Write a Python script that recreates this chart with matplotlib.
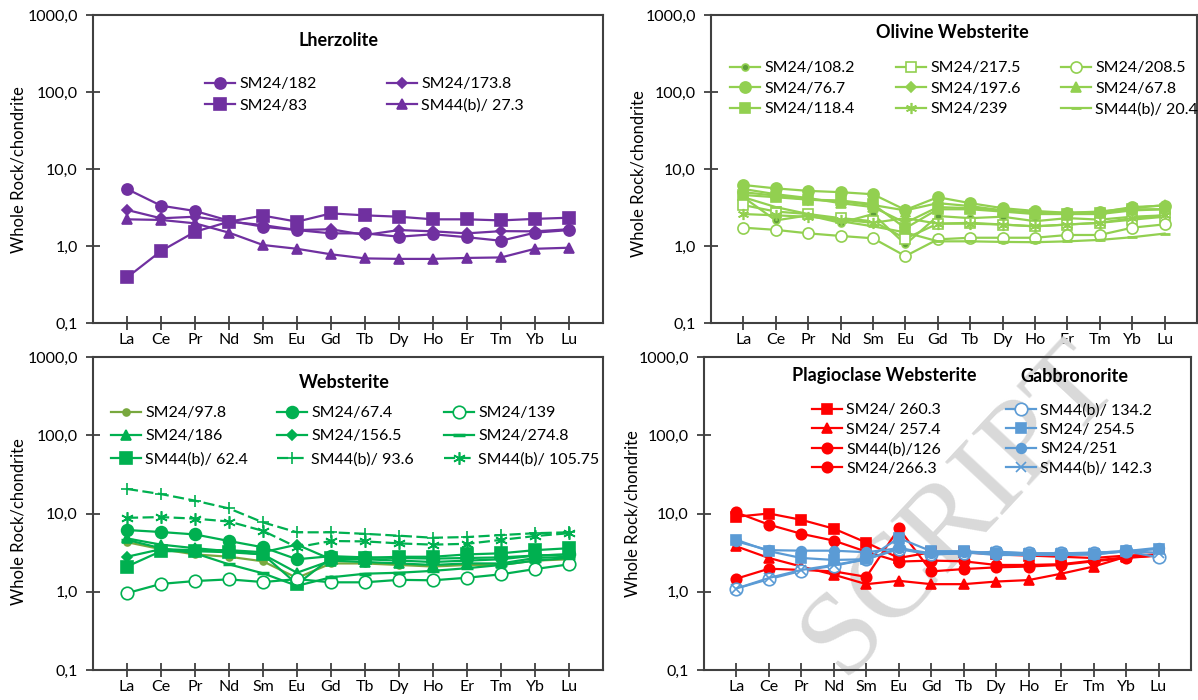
import numpy as np
import matplotlib
matplotlib.use("Agg")
import matplotlib.pyplot as plt

plt.rcParams['font.family'] = ['Lato', 'DejaVu Sans']

W, H = 1198, 700

ree = ["La", "Ce", "Pr", "Nd", "Sm", "Eu", "Gd", "Tb", "Dy", "Ho", "Er", "Tm", "Yb", "Lu"]
yticks = [0.1, 1, 10, 100, 1000]
ytick_labels = ["0,1", "1,0", "10,0", "100,0", "1000,0"]

# Lherzolite
lh_182 = [5.5, 3.34, 2.85, 2.13, 1.78, 1.61, 1.46, 1.46, 1.32, 1.42, 1.30, 1.17, 1.49, 1.61]
lh_173_8 = [2.94, 2.29, 2.40, 2.07, 1.87, 1.61, 1.65, 1.39, 1.61, 1.55, 1.46, 1.56, 1.55, 1.65]
lh_83 = [0.39, 0.86, 1.53, 2.07, 2.48, 2.07, 2.65, 2.50, 2.40, 2.22, 2.22, 2.15, 2.25, 2.33]
lh_27_3 = [2.22, 2.18, 1.97, 1.49, 1.03, 0.92, 0.78, 0.69, 0.68, 0.68, 0.70, 0.71, 0.92, 0.95]

# Olivine websterite
ow_108_2 = [4.3, 2.15, 2.5, 2.0, 2.6, 1.05, 2.45, 2.3, 2.4, 2.1, 2.3, 2.2, 2.4, 2.5]
ow_217_5 = [3.4, 2.8, 2.6, 2.3, 2.1, 1.25, 1.95, 2.0, 1.9, 1.8, 1.9, 2.0, 2.2, 2.4]
ow_208_5 = [1.73, 1.62, 1.46, 1.35, 1.26, 0.74, 1.22, 1.28, 1.28, 1.28, 1.39, 1.39, 1.73, 1.91]
ow_76_7 = [6.2, 5.6, 5.2, 5.0, 4.7, 2.94, 4.3, 3.6, 3.1, 2.85, 2.7, 2.75, 3.2, 3.35]
ow_197_6 = [5.0, 4.5, 4.0, 3.8, 3.4, 2.9, 3.6, 3.3, 2.9, 2.7, 2.6, 2.6, 2.9, 3.0]
ow_67_8 = [5.5, 4.7, 4.2, 3.6, 3.2, 2.0, 3.2, 3.1, 2.9, 2.7, 2.7, 2.8, 3.1, 3.4]
ow_118_4 = [4.6, 4.3, 4.0, 3.9, 3.5, 1.7, 3.0, 3.0, 2.8, 2.6, 2.6, 2.7, 3.0, 3.0]
ow_239 = [2.6, 2.5, 2.4, 2.2, 2.0, 2.3, 1.95, 1.95, 1.9, 1.8, 1.9, 2.0, 2.3, 2.5]
ow_20_4 = [4.3, 3.2, 2.6, 2.1, 1.8, 1.5, 1.15, 1.15, 1.13, 1.12, 1.15, 1.2, 1.3, 1.45]

# Websterite
ws_97_8 = [4.3, 3.5, 3.0, 2.8, 2.45, 1.5, 2.3, 2.3, 2.2, 2.1, 2.2, 2.2, 2.5, 2.6]
ws_67_4 = [6.15, 5.8, 5.4, 4.45, 3.7, 2.6, 2.85, 2.75, 2.7, 2.65, 2.7, 2.75, 2.9, 3.0]
ws_139 = [0.96, 1.26, 1.37, 1.44, 1.33, 1.45, 1.32, 1.32, 1.42, 1.40, 1.51, 1.67, 1.95, 2.24]
ws_186 = [4.8, 4.0, 3.6, 3.3, 3.0, 1.75, 2.5, 2.4, 2.3, 2.2, 2.3, 2.3, 2.7, 2.8]
ws_156_5 = [2.8, 3.5, 3.4, 3.4, 3.2, 4.0, 2.6, 2.6, 2.5, 2.4, 2.5, 2.6, 2.9, 3.0]
ws_274_8 = [4.6, 3.6, 3.1, 2.24, 1.72, 1.19, 1.53, 1.7, 1.75, 1.85, 2.0, 2.2, 2.5, 2.7]
ws_62_4 = [2.1, 3.3, 3.3, 3.2, 3.0, 1.25, 2.7, 2.7, 2.8, 2.8, 3.0, 3.1, 3.4, 3.6]
ws_93_6 = [20.6, 17.7, 14.6, 11.6, 7.7, 5.75, 5.75, 5.5, 5.2, 4.9, 5.0, 5.3, 5.6, 5.75]
ws_105_75 = [8.8, 9.0, 8.6, 7.9, 6.0, 3.7, 4.45, 4.4, 4.15, 4.0, 4.1, 4.6, 5.15, 5.6]

# Plagioclase websterite
pw_260_3 = [9.1, 10.0, 8.3, 6.4, 4.25, 2.7, 3.2, 3.2, 3.0, 2.9, 2.8, 2.7, 2.9, 3.0]
pw_257_4 = [3.8, 2.7, 2.1, 1.65, 1.25, 1.38, 1.25, 1.25, 1.35, 1.41, 1.7, 2.1, 2.8, 2.9]
pw_126 = [10.3, 7.2, 5.5, 4.5, 3.25, 2.43, 2.5, 2.45, 2.2, 2.2, 2.25, 2.5, 2.75, 2.9]
pw_266_3 = [1.47, 1.97, 1.9, 1.82, 1.55, 6.45, 1.82, 1.95, 2.05, 2.1, 2.2, 2.45, 2.7, 2.9]

# Gabbronorite
gn_134_2 = [1.1, 1.45, 1.85, 2.15, 2.6, 3.5, 3.0, 3.1, 3.25, 3.1, 3.1, 3.15, 3.3, 2.75]
gn_254_5 = [4.6, 3.3, 2.7, 2.55, 2.6, 4.85, 3.3, 3.3, 3.1, 3.0, 3.0, 3.0, 3.3, 3.5]
gn_251 = [4.4, 3.4, 3.35, 3.35, 3.2, 3.6, 3.1, 3.2, 2.95, 2.95, 2.95, 3.0, 3.3, 3.65]
gn_142_3 = [1.1, 1.5, 1.9, 2.2, 2.6, 3.6, 3.0, 3.1, 3.2, 3.1, 3.1, 3.15, 3.3, 3.15]

PURPLE = "#7030A0"
LGREEN = "#92D050"
GREEN = "#00B050"
OLIVE = "#78A83E"
RED = "#FF0000"
BLUE = "#5B9BD5"
STAR = (6, 2, 0)
DASHED = (0, (5, 2))


def s(label, values, color, marker, ms=7, open_=False, ls="-", mfc=None, mew=1.2):
    return dict(label=label, values=values, color=color, marker=marker, ms=ms,
                mfc=("white" if open_ else (mfc or color)), ls=ls, mew=mew)


def add_axes(left, right, top, bottom):
    ax = fig.add_axes([left / W, 1 - bottom / H, (right - left) / W, (bottom - top) / H])
    ax.set_yscale("log")
    ax.set_ylim(0.1, 1000)
    ax.set_xlim(-1, 14)
    ax.set_yticks(yticks)
    ax.set_yticklabels(ytick_labels)
    ax.minorticks_off()
    ax.set_xticks(range(len(ree)))
    ax.set_xticklabels(ree)
    ax.tick_params(axis="y", direction="inout", length=10, width=1.3, pad=6,
                   labelsize=11.5, colors="#404040", labelcolor="black")
    ax.tick_params(axis="x", direction="inout", length=10, width=1.3, pad=2,
                   labelsize=11.5, colors="#404040", labelcolor="black")
    for sp in ax.spines.values():
        sp.set_color("#404040")
        sp.set_linewidth(1.5)
    return ax


def draw(ax, series):
    handles = []
    for d in series:
        h, = ax.plot(range(len(ree)), d["values"], color=d["color"], marker=d["marker"],
                     markersize=d["ms"], markerfacecolor=d["mfc"], markeredgecolor=d["color"],
                     markeredgewidth=d["mew"], linestyle=d["ls"], linewidth=1.6,
                     label=d["label"], zorder=3)
        handles.append(h)
    return handles


def column_legend(handles, x, y, spacing=0.42):
    fig.legend(handles=handles, loc="upper left", bbox_to_anchor=(x / W, 1 - y / H),
               frameon=False, borderpad=0, borderaxespad=0, handlelength=1.9,
               handletextpad=0.25, labelspacing=spacing, fontsize=11.5)


def ylabel(x, y):
    fig.text(x / W, 1 - y / H, "Whole Rock/chondrite", rotation=90, ha="center",
             va="center", fontsize=12)


fig = plt.figure(figsize=(W / 100, H / 100), dpi=100)

# --- Lherzolite ---
ax1 = add_axes(93, 603, 15, 323)
h = draw(ax1, [
    s("SM24/182", lh_182, PURPLE, "o", ms=8),
    s("SM24/83", lh_83, PURPLE, "s", ms=8),
    s("SM24/173.8", lh_173_8, PURPLE, "D", ms=5),
    s("SM44(b)/ 27.3", lh_27_3, PURPLE, "^", ms=7.5),
])
column_legend(h[:2], 205, 77, 0.45)
column_legend(h[2:], 387, 77, 0.45)
fig.text(339 / W, 1 - 41 / H, "Lherzolite", ha="center", va="center", fontsize=13, fontweight="bold")
ylabel(19, 170)

# --- Olivine websterite ---
ax2 = add_axes(711, 1197, 15, 323)
h = draw(ax2, [
    s("SM24/108.2", ow_108_2, LGREEN, "o", ms=5, mfc="#5E9E3A"),
    s("SM24/76.7", ow_76_7, LGREEN, "o", ms=8),
    s("SM24/118.4", ow_118_4, LGREEN, "s", ms=7),
    s("SM24/217.5", ow_217_5, LGREEN, "s", ms=7, open_=True),
    s("SM24/197.6", ow_197_6, LGREEN, "D", ms=5),
    s("SM24/239", ow_239, LGREEN, STAR, ms=8),
    s("SM24/208.5", ow_208_5, LGREEN, "o", ms=8, open_=True),
    s("SM24/67.8", ow_67_8, LGREEN, "^", ms=7),
    s("SM44(b)/ 20.4", ow_20_4, LGREEN, "_", ms=7, mew=2),
])
column_legend(h[0:3], 730, 61, 0.4)
column_legend(h[3:6], 896, 61, 0.4)
column_legend(h[6:9], 1061, 61, 0.4)
fig.text(952 / W, 1 - 33 / H, "Olivine Websterite", ha="center", va="center", fontsize=13, fontweight="bold")
ylabel(638, 174)

# --- Websterite ---
ax3 = add_axes(93, 603, 357, 670)
h = draw(ax3, [
    s("SM24/97.8", ws_97_8, OLIVE, "o", ms=5),
    s("SM24/186", ws_186, GREEN, "^", ms=7.5),
    s("SM44(b)/ 62.4", ws_62_4, GREEN, "s", ms=8),
    s("SM24/67.4", ws_67_4, GREEN, "o", ms=8.5),
    s("SM24/156.5", ws_156_5, GREEN, "D", ms=5.5),
    s("SM44(b)/ 93.6", ws_93_6, GREEN, "+", ms=9, ls=DASHED),
    s("SM24/139", ws_139, GREEN, "o", ms=9, open_=True),
    s("SM24/274.8", ws_274_8, GREEN, "_", ms=8, mew=2.5),
    s("SM44(b)/ 105.75", ws_105_75, GREEN, STAR, ms=9, ls=DASHED),
])
column_legend(h[0:3], 111, 406, 0.55)
column_legend(h[3:6], 277, 406, 0.55)
column_legend(h[6:9], 444, 406, 0.55)
fig.text(344 / W, 1 - 383 / H, "Websterite", ha="center", va="center", fontsize=13, fontweight="bold")
ylabel(19, 522)

# --- Plagioclase websterite / Gabbronorite ---
ax4 = add_axes(704, 1191, 357, 670)
ax4.text(960 / W, 1 - 510 / H, "SCRIPT", rotation=47, ha="center", va="center",
         fontsize=86, color="#d9d9d9", family="Liberation Serif", zorder=0.5,
         transform=fig.transFigure, clip_on=False)
hr = draw(ax4, [
    s("SM24/ 260.3", pw_260_3, RED, "s", ms=7),
    s("SM24/ 257.4", pw_257_4, RED, "^", ms=7),
    s("SM44(b)/126", pw_126, RED, "o", ms=7.5),
    s("SM24/266.3", pw_266_3, RED, "o", ms=7.5),
])
hb = draw(ax4, [
    s("SM44(b)/ 134.2", gn_134_2, BLUE, "o", ms=9, open_=True),
    s("SM24/ 254.5", gn_254_5, BLUE, "s", ms=7),
    s("SM24/251", gn_251, BLUE, "o", ms=7),
    s("SM44(b)/ 142.3", gn_142_3, BLUE, "x", ms=7, mew=1.2),
])
column_legend(hr, 812, 403, 0.33)
column_legend(hb, 1006, 403, 0.33)
fig.text(884 / W, 1 - 376 / H, "Plagioclase Websterite", ha="center", va="center", fontsize=13, fontweight="bold")
fig.text(1074 / W, 1 - 376 / H, "Gabbronorite", ha="center", va="center", fontsize=13, fontweight="bold")
ylabel(632, 514)

fig.savefig("out.png", dpi=100)
